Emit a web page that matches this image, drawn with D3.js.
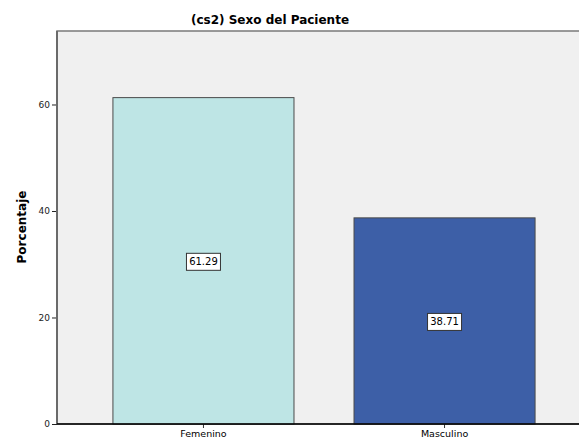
<!DOCTYPE html>
<html>
<head>
<meta charset="utf-8">
<script src="https://cdn.jsdelivr.net/npm/d3@7"></script>
<style>
  body { margin: 0; background: #fff; }
  text { font-family: "DejaVu Sans", sans-serif; }
</style>
</head>
<body>
<svg width="579" height="445"></svg>
<script>
"use strict";
const categories = ["Femenino", "Masculino"];
const values = [61.29, 38.71];
const yTicks = [0, 20, 40, 60];
const colors = ["#bee5e5", "#3d5fa7"];

let svg = d3.select("svg"),
    plotLeft = 57, plotRight = 591, plotTop = 31, plotBottom = 424;

let x = d3.scaleBand().domain(categories).range([plotLeft, plotRight])
    .paddingInner(0.249).paddingOuter(0.232);
let y = d3.scaleLinear().domain([0, 73.8]).range([plotBottom, plotTop]);

// plot background
svg.append("rect")
    .attr("x", plotLeft).attr("y", plotTop)
    .attr("width", plotRight - plotLeft).attr("height", plotBottom - plotTop)
    .attr("fill", "#f0f0f0")
    .attr("stroke", "#7a7a7a").attr("stroke-width", 1.5);

// bars
svg.selectAll("rect.bar")
    .data(values)
    .enter().append("rect")
    .attr("class", "bar")
    .attr("x", (d, i) => x(categories[i]))
    .attr("y", d => y(d))
    .attr("width", x.bandwidth())
    .attr("height", d => plotBottom - y(d))
    .attr("fill", (d, i) => colors[i])
    .attr("stroke", "#4a4a4a").attr("stroke-width", 1);

// value labels
let lab = svg.selectAll("g.lab")
    .data(values)
    .enter().append("g")
    .attr("class", "lab")
    .attr("transform", (d, i) => "translate(" + (x(categories[i]) + x.bandwidth() / 2) + "," + (y(d / 2) + 1) + ")");
lab.append("rect")
    .attr("x", -17).attr("y", -8.5)
    .attr("width", 34).attr("height", 17)
    .attr("fill", "#fff").attr("stroke", "#333").attr("stroke-width", 1);
lab.append("text")
    .attr("text-anchor", "middle")
    .attr("dy", "0.35em")
    .attr("font-size", 10)
    .attr("fill", "#000")
    .text(d => d.toFixed(2));

// y axis
let yAxis = svg.append("g")
    .attr("transform", "translate(" + plotLeft + ",0)")
    .call(d3.axisLeft(y).tickValues(yTicks).tickSize(5).tickPadding(2));
yAxis.select(".domain").remove();
yAxis.selectAll("text").attr("font-size", 9).attr("fill", "#222");
yAxis.selectAll("line").attr("stroke", "#222");
svg.append("line")
    .attr("x1", plotLeft).attr("x2", plotLeft).attr("y1", plotTop).attr("y2", plotBottom)
    .attr("stroke", "#6a6a6a").attr("stroke-width", 2);

// x axis
let xAxis = svg.append("g")
    .attr("transform", "translate(0," + plotBottom + ")")
    .call(d3.axisBottom(x).tickSize(4).tickPadding(2));
xAxis.select(".domain").remove();
xAxis.selectAll("text").attr("font-size", 9.5).attr("fill", "#000");
xAxis.selectAll("line").attr("stroke", "#333");
svg.append("line")
    .attr("x1", plotLeft).attr("x2", plotRight).attr("y1", plotBottom).attr("y2", plotBottom)
    .attr("stroke", "#000").attr("stroke-width", 1.5);

// title
svg.append("text")
    .attr("x", 270).attr("y", 24)
    .attr("text-anchor", "middle")
    .attr("font-size", 12).attr("font-weight", "bold")
    .text("(cs2) Sexo del Paciente");

// y label
svg.append("text")
    .attr("transform", "translate(26,227) rotate(-90)")
    .attr("text-anchor", "middle")
    .attr("font-size", 12).attr("font-weight", "bold")
    .text("Porcentaje");
</script>
</body>
</html>
